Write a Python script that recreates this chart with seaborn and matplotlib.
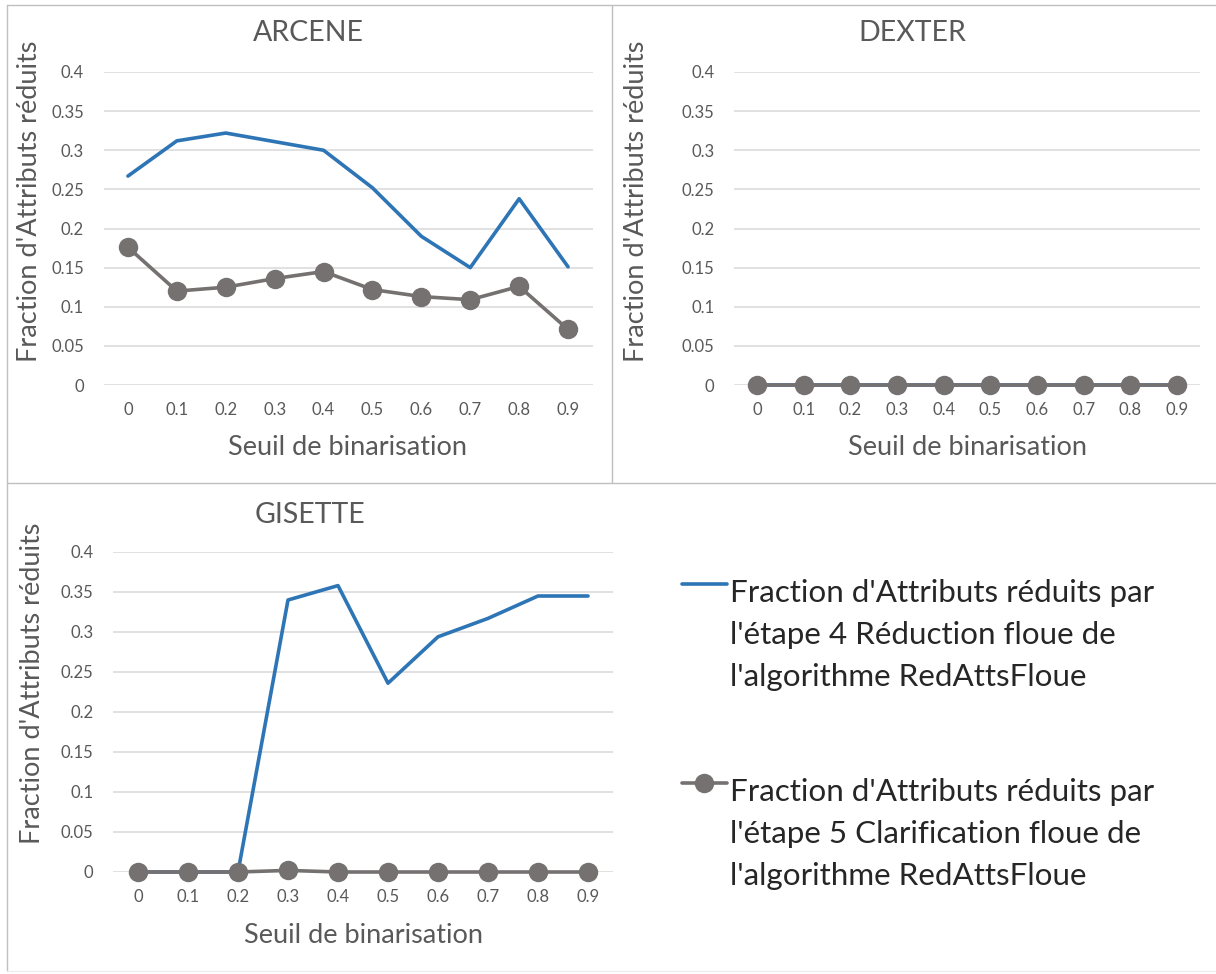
import numpy as np
import pandas as pd
import seaborn as sns
import matplotlib.pyplot as plt
from matplotlib.lines import Line2D
from matplotlib.legend_handler import HandlerLine2D

sns.set_theme(style="whitegrid")
plt.rcParams['font.family'] = ['Lato', 'DejaVu Sans']

# Data

seuils = [0.0, 0.1, 0.2, 0.3, 0.4, 0.5, 0.6, 0.7, 0.8, 0.9]
seuil_labels = ["0", "0.1", "0.2", "0.3", "0.4", "0.5", "0.6", "0.7", "0.8", "0.9"]
y_ticks = [0, 0.05, 0.1, 0.15, 0.2, 0.25, 0.3, 0.35, 0.4]
y_labels = ["0", "0.05", "0.1", "0.15", "0.2", "0.25", "0.3", "0.35", "0.4"]

arcene_etape4 = [0.267, 0.312, 0.322, 0.311, 0.300, 0.252, 0.190, 0.150, 0.238, 0.151]
arcene_etape5 = [0.176, 0.120, 0.125, 0.136, 0.145, 0.122, 0.113, 0.109, 0.126, 0.071]
dexter_etape4 = [0, 0, 0, 0, 0, 0, 0, 0, 0, 0]
dexter_etape5 = [0, 0, 0, 0, 0, 0, 0, 0, 0, 0]
gisette_etape4 = [0, 0, 0, 0.340, 0.358, 0.236, 0.294, 0.317, 0.345, 0.345]
gisette_etape5 = [0, 0, 0, 0.002, 0, 0, 0, 0, 0, 0]

label4 = "Fraction d'Attributs réduits par\nl'étape 4 Réduction floue de\nl'algorithme RedAttsFloue"
label5 = "Fraction d'Attributs réduits par\nl'étape 5 Clarification floue de\nl'algorithme RedAttsFloue"

BLUE = "#2E75B6"
GRAY = "#767171"
TEXT = "#595959"

W, H = 1216, 974
fig = plt.figure(figsize=(W / 100, H / 100), dpi=100)


def px_rect(left, top, right, bottom):
    return [left / W, 1 - bottom / H, (right - left) / W, (bottom - top) / H]


def draw_panel(rect, title, title_xy, d4, d5, ylab_xy):
    ax = fig.add_axes(rect)
    sns.lineplot(x=seuils, y=d4, color=BLUE, linewidth=2.6, ax=ax, label=label4)
    sns.lineplot(x=seuils, y=d5, color=GRAY, linewidth=2.6, marker="o",
                 markersize=14, markeredgewidth=0, ax=ax, label=label5)
    ax.set_xlim(-0.05, 0.95)
    ax.set_ylim(0, 0.4)
    ax.set_xticks(seuils)
    ax.set_xticklabels(seuil_labels)
    ax.set_yticks(y_ticks)
    ax.set_yticklabels(y_labels)
    ax.tick_params(axis="both", length=0, labelsize=12, labelcolor=TEXT)
    ax.tick_params(axis="y", pad=14)
    ax.tick_params(axis="x", pad=12)
    ax.grid(axis="x", visible=False)
    ax.grid(axis="y", color="#D9D9D9", linewidth=1.1)
    for s in ax.spines.values():
        s.set_visible(False)
    ax.set_xlabel("Seuil de binarisation", fontsize=19.5, color=TEXT)
    ax.set_ylabel("Fraction d'Attributs réduits", fontsize=19.5, color=TEXT)
    ax.xaxis.set_label_coords(0.5, -0.16)
    ax.yaxis.set_label_coords(*ylab_xy)
    ax.set_title(title, x=title_xy[0], y=title_xy[1], va="center", pad=0,
                 fontsize=20.5, color=TEXT)
    ax.get_legend().remove()
    for ln in ax.lines:
        ln.set_clip_on(False)
    return ax


ax1 = draw_panel(px_rect(103.5, 72, 592.5, 385), "ARCENE", (0.420, 1.125),
                 arcene_etape4, arcene_etape5, (-0.126, 0.588))
ax2 = draw_panel(px_rect(733.7, 72, 1200.4, 385), "DEXTER", (0.382, 1.125),
                 dexter_etape4, dexter_etape5, (-0.181, 0.588))
ax3 = draw_panel(px_rect(113, 552, 613, 872), "GISETTE", (0.394, 1.116),
                 gisette_etape4, gisette_etape5, (-0.136, 0.59))


# Legend: handle lined up with the first line of each label
class FirstLineHandler(HandlerLine2D):
    def create_artists(self, legend, orig_handle, xdescent, ydescent,
                       width, height, fontsize, trans):
        arts = super().create_artists(legend, orig_handle, xdescent, ydescent,
                                      width, height, fontsize, trans)
        for a in arts:
            a.set_ydata(np.asarray(a.get_ydata()) + fontsize * 1.65)
        return arts


handles, labels = ax3.get_legend_handles_labels()
leg = fig.legend(handles, labels, loc="upper left",
                 bbox_to_anchor=(682 / W, 1 - 579 / H), frameon=False,
                 fontsize=22.6, handlelength=1.43, handletextpad=0.1,
                 labelspacing=2.8, borderaxespad=0, borderpad=0,
                 handler_map={Line2D: FirstLineHandler()})
for t in leg.get_texts():
    t.set_linespacing(1.6)
    t.set_color("#262626")

# Panel borders
border = "#BFBFBF"
segments = [
    ((7, 5), (1216, 5)),
    ((7, 5), (7, 971)),
    ((612, 5), (612, 483)),
    ((7, 483), (1216, 483)),
]
for (x0, y0), (x1, y1) in segments:
    fig.add_artist(Line2D([x0 / W, x1 / W], [1 - y0 / H, 1 - y1 / H],
                          transform=fig.transFigure, color=border, linewidth=1))
fig.add_artist(Line2D([7 / W, 1], [1 - 971 / H, 1 - 971 / H],
                      transform=fig.transFigure, color="#EEEEEE", linewidth=1))

fig.savefig("out.png", dpi=100)
